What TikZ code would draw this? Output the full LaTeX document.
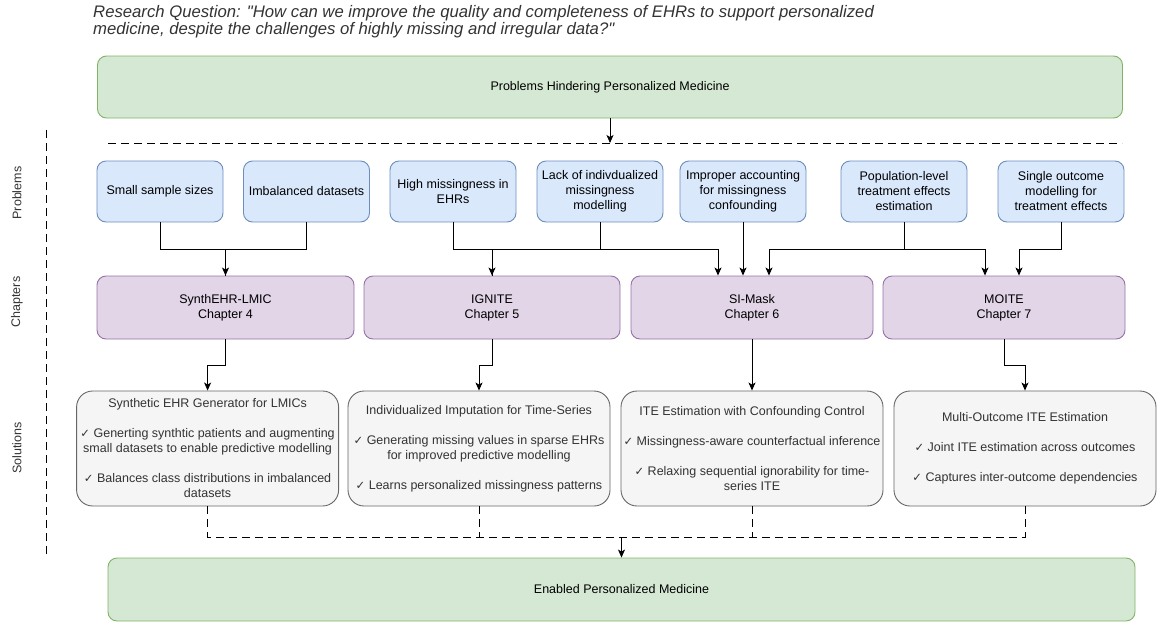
\documentclass[tikz,border=0pt]{standalone}
\usepackage{fontspec}
\setmainfont{Liberation Sans}
\newfontfamily\titlefont{Liberation Sans}
\newfontfamily\dejavu{DejaVu Sans}
\usetikzlibrary{arrows.meta}
\definecolor{gfill}{HTML}{D5E8D4}
\definecolor{gline}{HTML}{82B366}
\definecolor{bfill}{HTML}{DAE8FC}
\definecolor{bline}{HTML}{6C8EBF}
\definecolor{pfill}{HTML}{E1D5E7}
\definecolor{pline}{HTML}{9673A6}
\definecolor{sfill}{HTML}{F5F5F5}
\definecolor{sline}{HTML}{666666}
\definecolor{stext}{HTML}{333333}
\newcommand{\ck}{{\dejavu\fontsize{11.5}{15}\selectfont ✓}}
\tikzset{
  basebox/.style={draw, align=center, inner sep=0pt, line width=0.9pt, font=\fontsize{12.5}{15}\selectfont},
  greenbox/.style={basebox, fill=gfill, draw=gline, rounded corners=9pt},
  probbox/.style={basebox, fill=bfill, draw=bline, rounded corners=9pt, minimum width=126pt, minimum height=61pt},
  chapbox/.style={basebox, fill=pfill, draw=pline, rounded corners=9pt, minimum height=63pt},
  solbox/.style={basebox, fill=sfill, draw=sline, text=stext, rounded corners=16pt, minimum width=262pt, minimum height=115pt},
  sidelabel/.style={rotate=90, font=\fontsize{12.5}{15}\selectfont, text=stext},
  conn/.style={line width=0.9pt},
  arr/.style={conn, -{Stealth[length=8pt,width=7pt,inset=2pt]}},
  dsh/.style={line width=0.9pt, dash pattern=on 8pt off 5pt}
}
\begin{document}
\begin{tikzpicture}[x=1pt,y=-1pt]
\useasboundingbox (0,0) rectangle (1157,624);

% title
\node[anchor=north west, align=left, inner sep=0pt, font=\titlefont\fontsize{16.7}{16.8}\itshape\selectfont, text=stext] (title) at (93,5)
  {Research Question: "How can we improve the quality and completeness of EHRs to support personalized\\medicine, despite the challenges of highly missing and irregular data?"};

% top and bottom
\node[greenbox, minimum width=1025pt, minimum height=62pt] (topg) at (610,87) {Problems Hindering Personalized Medicine};
\node[greenbox, minimum width=1027pt, minimum height=63pt] (botg) at (621.5,589.5) {Enabled Personalized Medicine};

% side labels
\node[sidelabel] (lp) at (17,193) {Problems};
\node[sidelabel] (lc) at (17,302) {Chapters};
\node[sidelabel] (ls) at (17,448) {Solutions};
\coordinate (vt) at (46,130);
\coordinate (vb) at (46,555);
\draw[dsh] (vt) -- (vb);

% problems
\node[probbox] (b1) at (160,191.5) {Small sample sizes};
\node[probbox] (b2) at (306.5,191.5) {Imbalanced datasets};
\node[probbox] (b3) at (453,191.5) {High missingness in\\EHRs};
\node[probbox] (b4) at (600,191.5) {Lack of indivdualized\\missingness\\modelling};
\node[probbox] (b5) at (743,191.5) {Improper accounting\\for missingness\\confounding};
\node[probbox] (b6) at (904,191.5) {Population-level\\treatment effects\\estimation};
\node[probbox] (b7) at (1061,191.5) {Single outcome\\modelling for\\treatment effects};

% chapters
\node[chapbox, minimum width=257pt] (c1) at (225.5,307.5) {SynthEHR-LMIC\\Chapter 4};
\node[chapbox, minimum width=256pt] (c2) at (492,307.5) {IGNITE\\Chapter 5};
\node[chapbox, minimum width=242pt] (c3) at (752,307.5) {SI-Mask\\Chapter 6};
\node[chapbox, minimum width=242pt] (c4) at (1004,307.5) {MOITE\\Chapter 7};

% solutions
\node[solbox] (s1) at (207.6,448.5) {Synthetic EHR Generator for LMICs\\[15pt]\ck\ Generting synthtic patients and augmenting\\small datasets to enable predictive modelling\\[15pt]\ck\ Balances class distributions in imbalanced\\datasets};
\node[solbox] (s2) at (479,448.5) {Individualized Imputation for Time-Series\\[15pt]\ck\ Generating missing values in sparse EHRs\\for improved predictive modelling\\[15pt]\ck\ Learns personalized missingness patterns};
\node[solbox] (s3) at (752,448.5) {ITE Estimation with Confounding Control\\[15pt]\ck\ Missingness-aware counterfactual inference\\[15pt]\ck\ Relaxing sequential ignorability for time-\\series ITE};
\node[solbox] (s4) at (1025,448.5) {Multi-Outcome ITE Estimation\\[15pt]\ck\ Joint ITE estimation across outcomes\\[15pt]\ck\ Captures inter-outcome dependencies};

% top arrow and dashed divider
\coordinate (dl) at (108,143);
\coordinate (dr) at (1122,143);
\draw[dsh] (dl) -- (dr);
\draw[arr] (topg.south) -- (topg.south |- dl);

% problems -> chapters
\coordinate (J) at (0,249);
\draw[conn] (b1.south) -- (b1.south |- J) -| (c1.north);
\draw[arr] (b2.south) -- (b2.south |- J) -| (c1.north);
\draw[conn] (b3.south) -- (b3.south |- J) -| (c2.north);
\draw[arr] (b4.south) -- (b4.south |- J) -| (c2.north);
\draw[arr] (b4.south) -- (b4.south |- J) -| ([xshift=-34pt]c3.north);
\draw[arr] (b5.south) -- (b5.south |- c3.north);
\draw[arr] (b6.south) -- (b6.south |- J) -| ([xshift=17pt]c3.north);
\draw[arr] (b6.south) -- (b6.south |- J) -| ([xshift=-19pt]c4.north);
\draw[arr] (b7.south) -- (b7.south |- J) -| ([xshift=15pt]c4.north);

% chapters -> solutions
\draw[arr] (c1.south) -- ++(0,26) -| (s1.north);
\draw[arr] (c2.south) -- ++(0,26) -| (s2.north);
\draw[arr] (c3.south) -- (s3.north);
\draw[arr] (c4.south) -- ++(0,26) -| (s4.north);

% solutions -> bottom
\coordinate (K) at (0,537);
\draw[dsh] (s1.south) -- (s1.south |- K) -- (s4.south |- K) -- (s4.south);
\draw[dsh] (s2.south) -- (s2.south |- K);
\draw[dsh] (s3.south) -- (s3.south |- K);
\draw[arr] (botg.north |- K) -- (botg.north);
\end{tikzpicture}
\end{document}
